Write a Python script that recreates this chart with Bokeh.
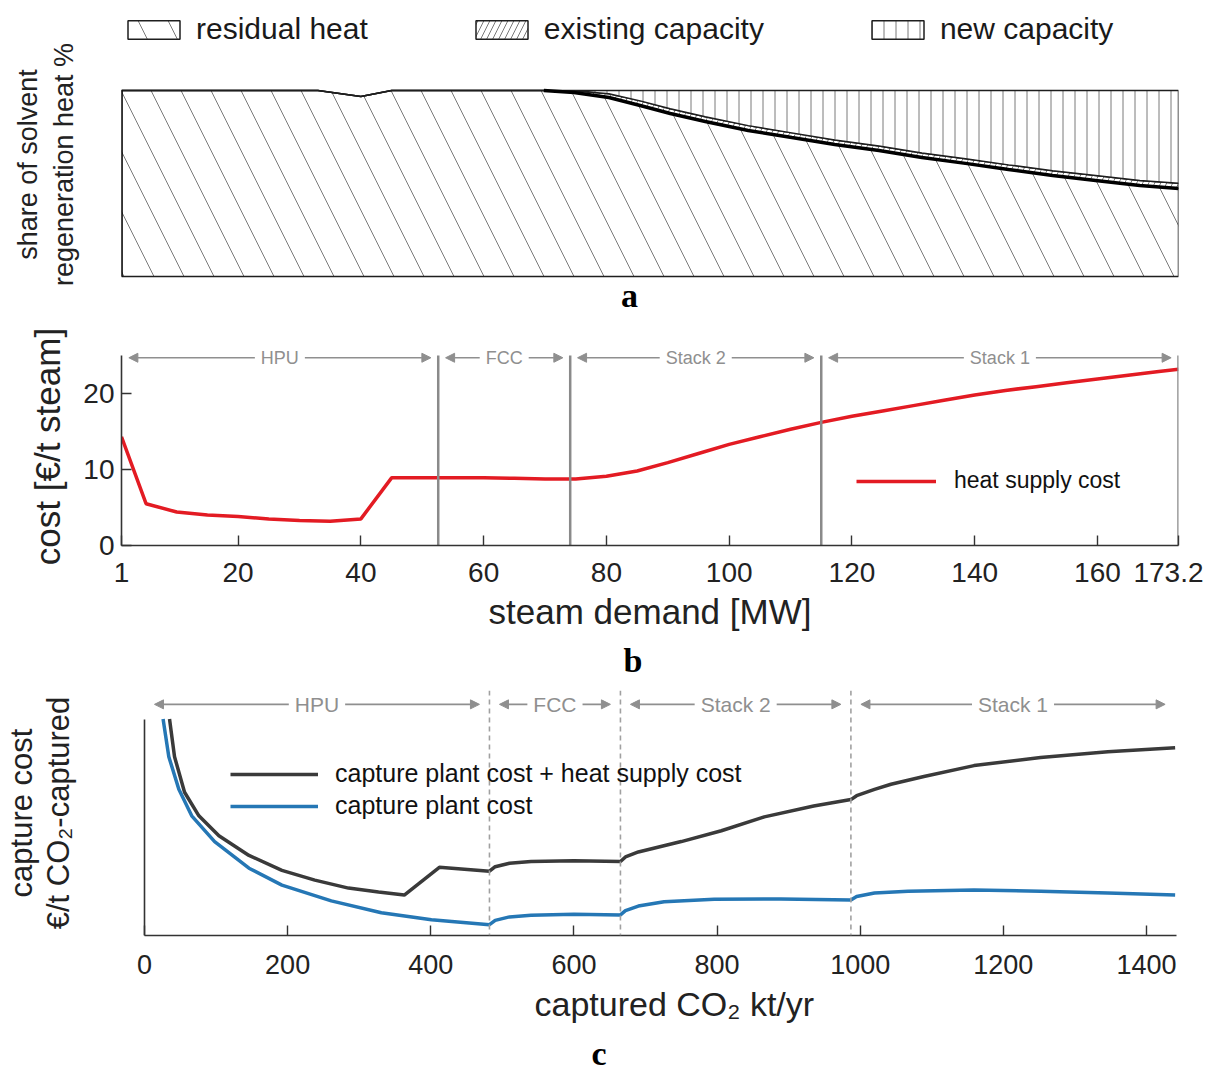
import numpy as np
from bokeh.plotting import figure
from bokeh.models import (Range1d, FixedTicker, Span, Arrow, NormalHead, Label,
                          Legend, LegendItem, Title, LinearAxis)
from bokeh.layouts import column
from bokeh.embed import file_html
from bokeh.resources import INLINE

# ---------------- data: panel a (share of solvent regeneration heat, %) ----------------
a_steam_mw = [1, 33, 40, 45, 69.8, 74.7, 80.4, 85.5, 90.4, 96.1, 103.1, 110.2, 117.2,
              124.4, 131.4, 138.5, 145.5, 152.7, 159.7, 166.9, 173.2]
a_residual = [100, 100, 96.8, 100, 100, 98.9, 96.2, 91.9, 87.6, 83.3, 78.5, 74.7, 71.0,
              67.7, 64.0, 60.8, 57.5, 54.3, 51.6, 48.9, 47.3]
a_existing = [0, 0, 0, 0, 0, 0.9, 2.0, 2.5, 2.6, 2.6, 2.6, 2.5, 2.4,
              2.4, 2.4, 2.5, 2.5, 2.6, 2.7, 2.7, 2.8]
a_new = [0, 0, 0, 0, 0, 0.2, 1.8, 5.6, 9.8, 14.1, 18.9, 22.8, 26.6,
         29.9, 33.6, 36.7, 40.0, 43.1, 45.7, 48.4, 49.9]
a_legend_labels = ["residual heat", "existing capacity", "new capacity"]

# ---------------- data: panel b (heat supply cost) ----------------
b_steam_mw = [1, 5, 10, 15, 20, 25, 30, 35, 40, 45, 50, 55, 60, 65, 70, 75, 80, 85, 90,
              95, 100, 105, 110, 115, 120, 125, 130, 135, 140, 145, 150, 155, 160, 165,
              170, 173.2]
b_heat_cost = [14.3, 5.5, 4.4, 4.0, 3.8, 3.5, 3.3, 3.2, 3.5, 8.9, 8.9, 8.9, 8.9, 8.85,
               8.75, 8.75, 9.1, 9.8, 10.9, 12.1, 13.3, 14.3, 15.3, 16.2, 17.0, 17.7, 18.4,
               19.1, 19.8, 20.4, 20.9, 21.4, 21.9, 22.4, 22.9, 23.2]
b_x_ticks = [1, 20, 40, 60, 80, 100, 120, 140, 160, 173.2]
b_x_tick_labels = ["1", "20", "40", "60", "80", "100", "120", "140", "160", "173.2"]
b_y_ticks = [0, 10, 20]
b_y_axis_top = 25
b_region_bounds = [1, 52.6, 74.1, 115.0, 173.2]
region_names = ["HPU", "FCC", "Stack 2", "Stack 1"]

# ---------------- data: panel c (capture cost, arbitrary scale) ----------------
c_total_kt = [35, 42, 56, 76, 104, 146, 192, 238, 285, 327, 363, 412, 482, 490, 510, 540,
              600, 665, 672, 690, 750, 806, 866, 935, 987, 995, 1020, 1043, 1089, 1159,
              1252, 1346, 1440]
c_total_cost = [100, 82.6, 66.2, 55.3, 46.1, 37.0, 30.1, 25.6, 21.9, 20.1, 18.7, 31.5,
                29.7, 31.8, 33.4, 34.2, 34.5, 34.2, 36.3, 38.6, 43.4, 48.4, 54.8, 59.8,
                62.8, 64.6, 67.5, 69.9, 73.5, 78.5, 82.2, 84.9, 86.8]
c_plant_kt = [26, 34, 48, 66, 98, 146, 192, 261, 331, 401, 482, 490, 510, 540, 600, 665,
              672, 690, 726, 796, 889, 987, 995, 1020, 1067, 1159, 1252, 1346, 1440]
c_plant_cost = [100, 82.6, 67.6, 55.3, 43.4, 31.1, 23.3, 16.0, 10.5, 7.3, 5.0, 7.0, 8.6,
                9.4, 9.8, 9.5, 11.5, 13.6, 15.6, 16.8, 16.9, 16.4, 18.0, 19.6, 20.5, 21.0,
                20.5, 19.6, 18.7]
c_legend_labels = ["capture plant cost + heat supply cost", "capture plant cost"]
c_x_ticks = [0, 200, 400, 600, 800, 1000, 1200, 1400]
c_region_bounds = [0, 482, 665, 987, 1440]

# ---------------- style ----------------
FONT = "Liberation Sans"
SERIF = "Liberation Serif"
GRAY = "#8f8f8f"
AXIS = "#333333"
TXT = "#222222"
W = 1203
BL, BR = 120, 25   # common left/right borders (column aligns frames)


def base_axes(p):
    p.grid.visible = False
    p.outline_line_color = None
    p.background_fill_color = "white"
    for ax in p.axis:
        ax.axis_line_color = AXIS
        ax.axis_line_width = 1.6
        ax.major_tick_line_color = AXIS
        ax.major_tick_line_width = 1.4
        ax.major_tick_in = 10
        ax.major_tick_out = 0
        ax.minor_tick_line_color = None
        ax.major_label_text_font = FONT
        ax.major_label_text_color = TXT
        ax.axis_label_text_font = FONT
        ax.axis_label_text_font_style = "normal"
        ax.axis_label_text_color = TXT


def region_arrows(p, bounds, names, y, inset, size):
    for i, name in enumerate(names):
        x0 = bounds[i] + inset
        x1 = bounds[i + 1] - inset
        p.add_layout(Arrow(x_start=x0, y_start=y, x_end=x1, y_end=y,
                           line_color=GRAY, line_width=1.6,
                           start=NormalHead(size=9, fill_color=GRAY, line_color=GRAY),
                           end=NormalHead(size=9, fill_color=GRAY, line_color=GRAY)))
        p.add_layout(Label(x=(bounds[i] + bounds[i + 1]) / 2, y=y, text=name,
                           text_align="center", text_baseline="middle",
                           text_font=FONT, text_font_size=size, text_color=GRAY,
                           background_fill_color="white", padding=6))


# ======================= panel a =======================
pa = figure(width=W, height=318, x_range=Range1d(1, 173.2), y_range=Range1d(-22.6, 143.0),
            output_backend="svg", toolbar_location=None,
            min_border_left=BL, min_border_right=BR, min_border_top=10,
            min_border_bottom=0)
base_axes(pa)
pa.xaxis.visible = False
pa.yaxis.ticker = FixedTicker(ticks=[])
pa.yaxis.major_tick_line_color = None
pa.yaxis.axis_line_color = None
pa.yaxis.axis_label = "share of solvent\nregeneration heat %"
pa.yaxis.axis_label_text_font_size = "27px"
pa.yaxis.axis_label_standoff = 43

mw = np.array(a_steam_mw)
lvl0 = np.zeros(len(mw))
lvl1 = lvl0 + np.array(a_residual)
lvl2 = lvl1 + np.array(a_existing)
lvl3 = lvl2 + np.array(a_new)
xs_poly = np.concatenate([mw, mw[::-1]])

area_specs = [(lvl0, lvl1, "\\", 60), (lvl1, lvl2, "/", 12), (lvl2, lvl3, "|", 12)]
area_renderers = []
for lo, hi, pat, sc in area_specs:
    r = pa.patch(xs_poly, np.concatenate([hi, lo[::-1]]), fill_color="white",
                 hatch_pattern=pat, hatch_scale=sc, hatch_color="#7a7a7a",
                 hatch_weight=1.0, line_color="#1e1e1e", line_width=1.5)
    area_renderers.append(r)

start = int(np.nonzero(np.array(a_new))[0][0]) - 1
pa.line(mw[start:], lvl1[start:], line_color="black", line_width=3.5)
pa.line(mw[:1].repeat(2), [0, a_residual[0]], line_color="black", line_width=2.5)

leg_a = Legend(items=[LegendItem(label=l, renderers=[r])
                      for l, r in zip(a_legend_labels, area_renderers)],
               orientation="horizontal", location=(0, 272), glyph_width=65,
               glyph_height=23, label_standoff=10, spacing=101, padding=0, margin=0,
               border_line_color=None, background_fill_alpha=0,
               label_text_font=FONT, label_text_font_size="30px",
               label_text_color="#1a1a1a")
pa.add_layout(leg_a)
pa.add_layout(Label(x=508, y=23, x_units="screen", y_units="screen", text="a",
                    text_align="center", text_baseline="middle", text_font=SERIF,
                    text_font_style="bold", text_font_size="34px", text_color="black"))

# ======================= panel b =======================
pb = figure(width=W, height=367, x_range=Range1d(1, 173.2), y_range=Range1d(0, 26.05),
            output_backend="svg", toolbar_location=None,
            min_border_left=BL, min_border_right=BR, min_border_top=29,
            min_border_bottom=140)
base_axes(pb)
pb.xaxis.ticker = FixedTicker(ticks=b_x_ticks)
pb.xaxis.major_label_overrides = {t: s for t, s in zip(b_x_ticks, b_x_tick_labels)}
pb.yaxis.ticker = FixedTicker(ticks=b_y_ticks)
pb.yaxis.bounds = (0, b_y_axis_top)
for ax in pb.axis:
    ax.major_label_text_font_size = "28px"
    ax.axis_label_text_font_size = "35px"
pb.xaxis.axis_label = "steam demand [MW]"
pb.yaxis.axis_label = "cost [€/t steam]"
pb.xaxis.major_label_standoff = 17
pb.xaxis.axis_label_standoff = 7
pb.yaxis.major_label_standoff = 7
pb.yaxis.axis_label_standoff = 13

red = pb.line(b_steam_mw, b_heat_cost, line_color="#e31b23", line_width=3.5)
nb = len(b_region_bounds) - 1
pb.segment(x0=b_region_bounds[1:], y0=[0] * nb, x1=b_region_bounds[1:],
           y1=[b_y_axis_top] * nb, line_color="#8a8a8a", line_width=2.5)
region_arrows(pb, b_region_bounds, region_names, 24.7, 1.2, "18px")

leg_b = Legend(items=[LegendItem(label="heat supply cost", renderers=[red])],
               location=(735, 51), glyph_width=80, glyph_height=22, label_standoff=18,
               padding=0, margin=0, border_line_color=None, background_fill_alpha=0,
               label_text_font=FONT, label_text_font_size="23px",
               label_text_color="#111111")
pb.add_layout(leg_b)
pb.add_layout(Title(text="b", align="left", offset=502, standoff=12,
                    text_font=SERIF, text_font_style="bold", text_font_size="34px",
                    text_color="black"), "below")

# ======================= panel c =======================
pc = figure(width=W, height=390, x_range=Range1d(-32.1, 1444.7), y_range=Range1d(0, 113.2),
            output_backend="svg", toolbar_location=None,
            min_border_left=BL, min_border_right=BR, min_border_top=5,
            min_border_bottom=137)
base_axes(pc)
pc.xaxis.ticker = FixedTicker(ticks=c_x_ticks)
pc.xaxis.bounds = (0, 1442)
pc.xaxis.major_label_text_font_size = "27px"
pc.xaxis.major_label_standoff = 19
pc.yaxis.ticker = FixedTicker(ticks=[])
pc.yaxis.axis_line_color = None
pc.yaxis.axis_label = "capture cost\n€/t CO₂-captured"
pc.yaxis.axis_label_text_font_size = "31px"
pc.yaxis.axis_label_text_line_height = 1.05
pc.yaxis.axis_label_standoff = 46
spine = LinearAxis(fixed_location=0, bounds=(0, 100), ticker=FixedTicker(ticks=[]),
                   axis_line_color=AXIS, axis_line_width=1.6,
                   major_tick_line_color=None, minor_tick_line_color=None)
pc.add_layout(spine, "left")

blk = pc.line(c_total_kt, c_total_cost, line_color="#3a3a3a", line_width=3.5)
blu = pc.line(c_plant_kt, c_plant_cost, line_color="#2577b5", line_width=3.5)
for bnd in c_region_bounds[1:-1]:
    pc.add_layout(Span(location=bnd, dimension="height", line_color="#a0a0a0",
                       line_width=1.6, line_dash="5 4"))
region_arrows(pc, c_region_bounds, region_names, 106.8, 14, "21px")

leg_c = Legend(items=[LegendItem(label=l, renderers=[r])
                      for l, r in zip(c_legend_labels, [blk, blu])],
               location=(109, 115), glyph_width=88, glyph_height=28, label_standoff=17,
               spacing=3, padding=0, margin=0, border_line_color=None,
               background_fill_alpha=0, label_text_font=FONT,
               label_text_font_size="25px", label_text_color="#111111")
pc.add_layout(leg_c)
pc.add_layout(Title(text="captured CO₂ kt/yr", align="left", offset=413, standoff=13,
                    text_font=FONT, text_font_style="normal", text_font_size="34px",
                    text_color=TXT), "below")
pc.add_layout(Title(text="c", align="left", offset=470, standoff=7,
                    text_font=SERIF, text_font_style="bold", text_font_size="34px",
                    text_color="black"), "below")

page = column(pa, pb, pc, spacing=0)
open("out.html", "w").write(file_html(page, INLINE))
